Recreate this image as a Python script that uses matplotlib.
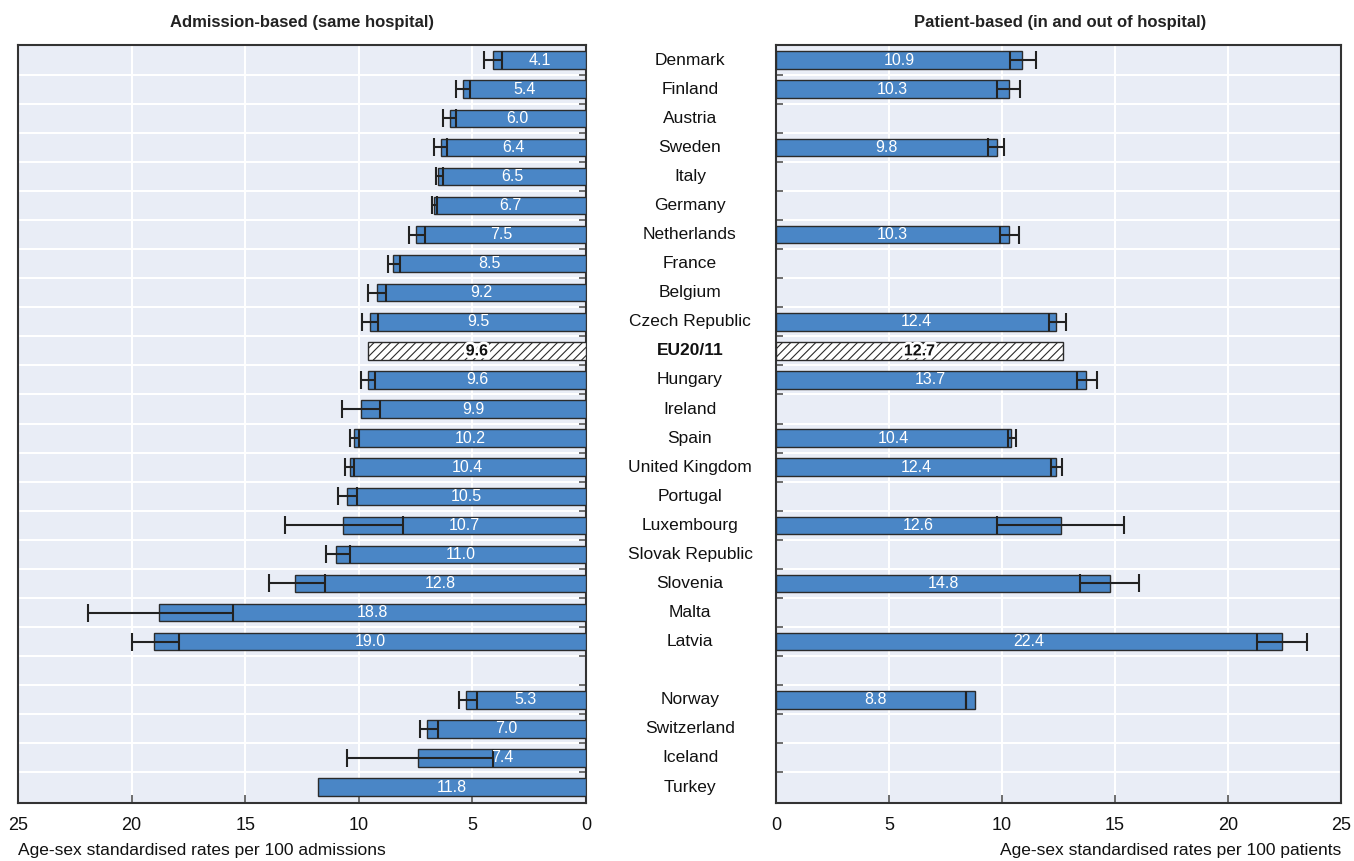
import matplotlib
matplotlib.use("Agg")
import matplotlib.pyplot as plt
import matplotlib.transforms as mtransforms
import matplotlib.patheffects as pe
import numpy as np

plt.rcParams["font.family"] = ["Liberation Sans", "DejaVu Sans"]
plt.rcParams["hatch.linewidth"] = 0.8

# ── Data ─────────────────────────────────────────────────────────
countries = ["Denmark", "Finland", "Austria", "Sweden", "Italy", "Germany",
             "Netherlands", "France", "Belgium", "Czech Republic", "EU20/11",
             "Hungary", "Ireland", "Spain", "United Kingdom", "Portugal",
             "Luxembourg", "Slovak Republic", "Slovenia", "Malta", "Latvia",
             "", "Norway", "Switzerland", "Iceland", "Turkey"]

adm_val = [4.1, 5.4, 6.0, 6.4, 6.5, 6.7, 7.5, 8.5, 9.2, 9.5, 9.6, 9.6, 9.9,
           10.2, 10.4, 10.5, 10.7, 11.0, 12.8, 18.8, 19.0, None, 5.3, 7.0,
           7.4, 11.8]
adm_lo = [3.7, 5.1, 5.7, 6.1, 6.3, 6.55, 7.1, 8.2, 8.8, 9.15, None, 9.3,
          9.05, 10.0, 10.2, 10.1, 8.05, 10.4, 11.5, 15.55, 17.9, None, 4.8,
          6.5, 4.1, None]
adm_hi = [4.5, 5.7, 6.3, 6.7, 6.6, 6.8, 7.8, 8.7, 9.6, 9.85, None, 9.9,
          10.75, 10.4, 10.6, 10.9, 13.25, 11.45, 13.95, 21.9, 20.0, None,
          5.6, 7.3, 10.5, None]

pat_val = [10.9, 10.3, None, 9.8, None, None, 10.3, None, None, 12.4, 12.7,
           13.7, None, 10.4, 12.4, None, 12.6, None, 14.8, None, 22.4, None,
           8.8, None, None, None]
pat_lo = [10.35, 9.8, None, 9.4, None, None, 9.9, None, None, 12.1, None,
          13.3, None, 10.25, 12.15, None, 9.8, None, 13.45, None, 21.3, None,
          8.4, None, None, None]
pat_hi = [11.5, 10.8, None, 10.1, None, None, 10.75, None, None, 12.85, None,
          14.2, None, 10.6, 12.65, None, 15.4, None, 16.05, None, 23.5, None,
          8.4, None, None, None]

AVG = "EU20/11"

# ── Style ────────────────────────────────────────────────────────
BG = "#e9edf6"
BAR = "#4a86c6"
EDGE = "#2b2b2b"
DARK = "#222222"


def draw_panel(ax, vals, lo, hi):
    ax.set_facecolor(BG)
    ys = np.arange(len(countries))
    for y, c, v, l, h in zip(ys, countries, vals, lo, hi):
        if v is None:
            continue
        if c == AVG:
            ax.barh(y, v, height=0.6, color="white", edgecolor=EDGE,
                    hatch="////", linewidth=1.0, zorder=3)
            ax.text(v / 2, y, f"{v:.1f}", ha="center", va="center",
                    fontsize=11.5, fontweight="bold", color="#111111", zorder=5,
                    path_effects=[pe.withStroke(linewidth=4, foreground="white")])
        else:
            ax.barh(y, v, height=0.6, color=BAR, edgecolor=EDGE,
                    linewidth=1.0, zorder=3)
            ax.text(v / 2, y, f"{v:.1f}", ha="center", va="center",
                    fontsize=11.5, color="white", zorder=5)
        if l is not None:
            # centred on the interval so a zero-width interval still gets a cap
            ax.errorbar((l + h) / 2, y, xerr=(h - l) / 2, fmt="none",
                        ecolor=DARK, elinewidth=1.5, capsize=6.5,
                        capthick=1.5, zorder=4)
    ax.set_xlim(0, 25)
    ax.set_ylim(len(countries) - 0.45, -0.52)
    ax.set_xticks([0, 5, 10, 15, 20, 25])
    ax.set_yticks(ys[:-1] + 0.5)
    ax.set_yticklabels([])
    ax.grid(False)
    for x in [5, 10, 15, 20]:
        ax.axvline(x, color="white", linewidth=1.5, zorder=1)
    for y in ys[:-1] + 0.5:
        ax.axhline(y, color="white", linewidth=1.5, zorder=1)
    for sp in ax.spines.values():
        sp.set_color("#333333")
        sp.set_linewidth(1.5)
    ax.tick_params(axis="x", direction="in", length=6, width=1.2,
                   colors="#555555", labelcolor="#111111", labelsize=13,
                   pad=10)
    ax.tick_params(axis="y", direction="in", length=5, width=1.2,
                   colors="#555555")


fig = plt.figure(figsize=(13.54, 8.61), dpi=100)
fig.patch.set_facecolor("white")

ax_l = fig.add_axes([18 / 1354, 1 - 803 / 861, 568 / 1354, 758 / 861])
ax_r = fig.add_axes([776 / 1354, 1 - 803 / 861, 565 / 1354, 758 / 861])

draw_panel(ax_l, adm_val, adm_lo, adm_hi)
draw_panel(ax_r, pat_val, pat_lo, pat_hi)

ax_l.invert_xaxis()
ax_l.yaxis.tick_right()

# Country names between the panels
trans = mtransforms.blended_transform_factory(fig.transFigure, ax_l.transData)
for i, c in enumerate(countries):
    fig.text(690 / 1354, i, c, transform=trans, ha="center", va="center",
             fontsize=12.5, color="#111111",
             fontweight="bold" if c == AVG else "normal")

fig.text(302 / 1354, 1 - 23 / 861, "Admission-based (same hospital)",
         ha="center", va="center", fontsize=12, fontweight="bold",
         color="#222222")
fig.text(1060 / 1354, 1 - 23 / 861, "Patient-based (in and out of hospital)",
         ha="center", va="center", fontsize=12, fontweight="bold",
         color="#222222")

fig.text(18 / 1354, 1 - 850 / 861, "Age-sex standardised rates per 100 admissions",
         ha="left", va="center", fontsize=12.5, color="#111111")
fig.text(1341 / 1354, 1 - 850 / 861, "Age-sex standardised rates per 100 patients",
         ha="right", va="center", fontsize=12.5, color="#111111")

fig.savefig("out.png", dpi=100, facecolor=fig.get_facecolor())
